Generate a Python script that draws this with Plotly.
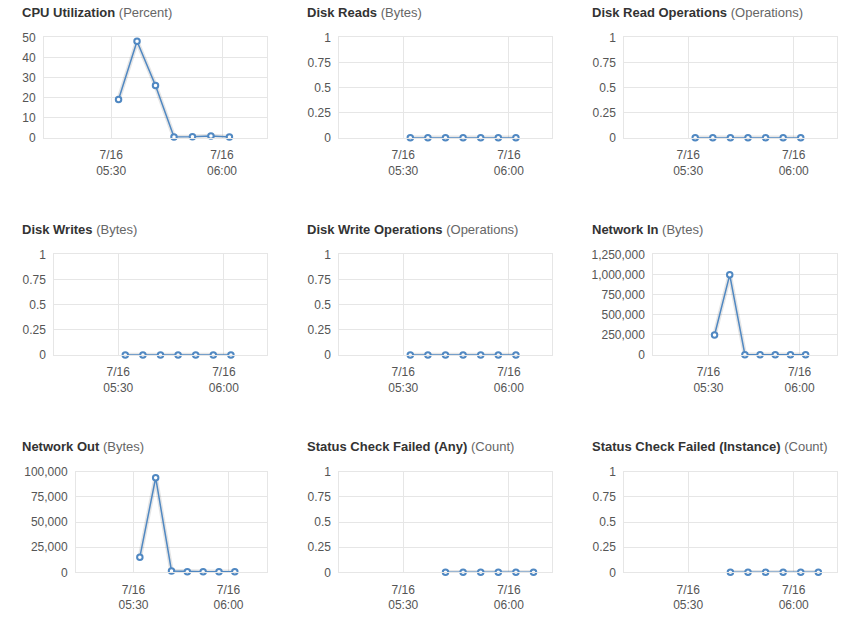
import plotly.graph_objects as go

W, H = 856, 630
DATE = "2015-07-16"

# ---- data ----
times_a = ["05:32", "05:37", "05:42", "05:47", "05:52", "05:57", "06:02"]
times_b = ["05:42", "05:47", "05:52", "05:57", "06:02", "06:07"]

cpu = [19, 48, 26, 0.3, 0.5, 0.9, 0.4]
disk_reads = [0, 0, 0, 0, 0, 0, 0]
disk_read_ops = [0, 0, 0, 0, 0, 0, 0]
disk_writes = [0, 0, 0, 0, 0, 0, 0]
disk_write_ops = [0, 0, 0, 0, 0, 0, 0]
network_in = [248000, 995000, 4000, 3000, 3000, 3000, 3000]
network_out = [15000, 94000, 1300, 600, 500, 500, 500]
status_any = [0, 0, 0, 0, 0, 0]
status_instance = [0, 0, 0, 0, 0, 0]

x_tick_times = ["05:30", "06:00"]
x_tick_labels = ["7/16<br>05:30", "7/16<br>06:00"]
x_range_times = ["05:11:50", "06:12:10"]

panels = [
    # title, unit, times, values, ymax, dtick
    ("CPU Utilization", "Percent", times_a, cpu, 50, 10),
    ("Disk Reads", "Bytes", times_a, disk_reads, 1, 0.25),
    ("Disk Read Operations", "Operations", times_a, disk_read_ops, 1, 0.25),
    ("Disk Writes", "Bytes", times_a, disk_writes, 1, 0.25),
    ("Disk Write Operations", "Operations", times_a, disk_write_ops, 1, 0.25),
    ("Network In", "Bytes", times_a, network_in, 1250000, 250000),
    ("Network Out", "Bytes", times_a, network_out, 100000, 25000),
    ("Status Check Failed (Any)", "Count", times_b, status_any, 1, 0.25),
    ("Status Check Failed (Instance)", "Count", times_b, status_instance, 1, 0.25),
]

# ---- layout geometry (pixels) ----
x_domains_px = [
    (44, 267), (339.3, 551.7), (624.3, 836.5),
    (54.3, 266.7), (339.3, 551.7), (653.3, 836.5),
    (76, 267), (339.3, 551.7), (624.3, 836.5),
]
row_px = [(37.3, 137.7), (254.3, 355), (471.7, 572.3)]
title_x_px = [20, 305, 590]
title_y_px = [12.8, 229.5, 446]

LINE = "#5088c2"
GRID = "#e6e6e6"
FONT = "Arial, Liberation Sans, sans-serif"

fig = go.Figure()
annotations = []
layout = {}

for i, (title, unit, times, vals, ymax, dt) in enumerate(panels):
    r, c = divmod(i, 3)
    n = "" if i == 0 else str(i + 1)
    xs = [f"{DATE} {t}" for t in times]
    # soft shadow
    fig.add_trace(go.Scatter(
        x=xs, y=vals, mode="lines", xaxis="x" + n, yaxis="y" + n,
        line=dict(color="rgba(0,0,0,0.10)", width=4.5), hoverinfo="skip",
        showlegend=False, cliponaxis=False))
    fig.add_trace(go.Scatter(
        x=xs, y=vals, mode="lines+markers", xaxis="x" + n, yaxis="y" + n,
        line=dict(color=LINE, width=1.5),
        marker=dict(symbol="circle", size=5.5, color="white",
                    line=dict(color=LINE, width=2)),
        showlegend=False, cliponaxis=False))
    x0, x1 = x_domains_px[i]
    top, bot = row_px[r]
    layout["xaxis" + n] = dict(
        domain=[x0 / W, x1 / W], type="date",
        range=[f"{DATE} {t}" for t in x_range_times],
        tickvals=[f"{DATE} {t}" for t in x_tick_times], ticktext=x_tick_labels,
        showgrid=True, gridcolor=GRID, gridwidth=1,
        showline=True, linecolor=GRID, mirror=True, zeroline=False,
        ticks="", ticklabelstandoff=6,
        tickfont=dict(size=12, color="#555", family=FONT),
        anchor="y" + n, automargin=False, fixedrange=True)
    layout["yaxis" + n] = dict(
        domain=[1 - bot / H, 1 - top / H], range=[0, ymax],
        tick0=0, dtick=dt, tickformat=",~r" if dt >= 1 else "",
        showgrid=True, gridcolor=GRID, gridwidth=1,
        showline=True, linecolor=GRID, mirror=True, zeroline=False,
        ticks="", ticklabelstandoff=5,
        tickfont=dict(size=12, color="#555", family=FONT),
        anchor="x" + n, automargin=False, fixedrange=True)
    annotations.append(dict(
        xref="paper", yref="paper", x=title_x_px[c] / W, y=1 - title_y_px[r] / H,
        xanchor="left", yanchor="middle", showarrow=False,
        text=f"<b>{title}</b> <span style='color:#666'>({unit})</span>",
        font=dict(size=13, color="#333", family=FONT)))

fig.update_layout(
    width=W, height=H, margin=dict(l=0, r=0, t=0, b=0),
    paper_bgcolor="white", plot_bgcolor="white",
    annotations=annotations, **layout)

fig.write_html("out.html")
